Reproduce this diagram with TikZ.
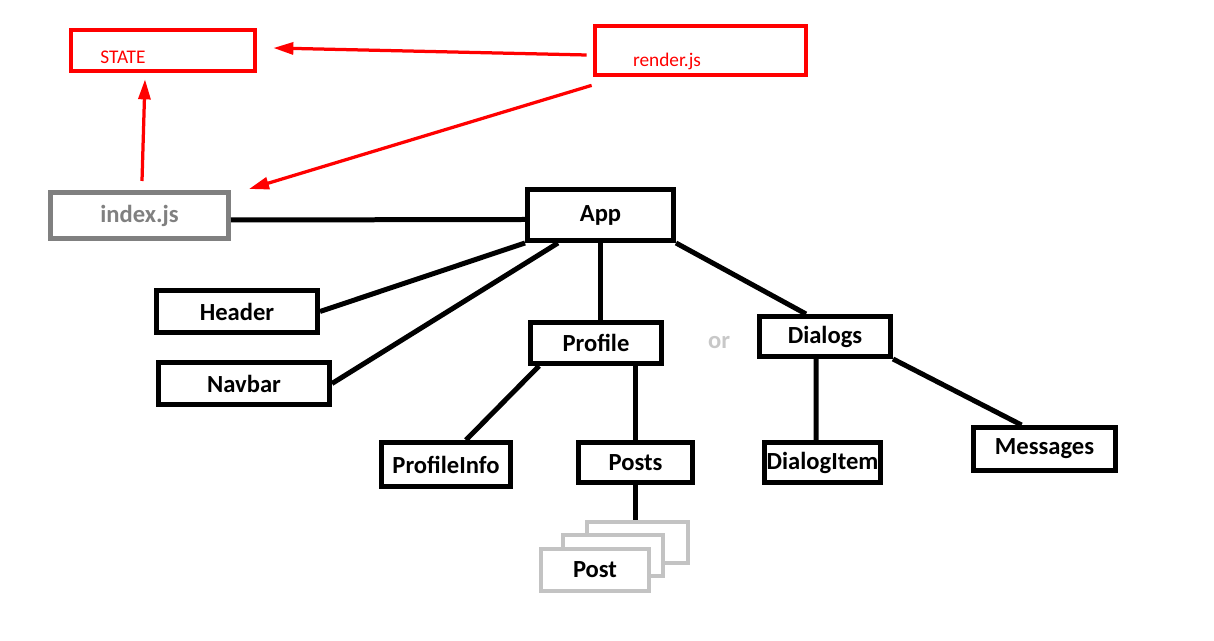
\documentclass[tikz,border=0pt]{standalone}
\usepackage{fontspec}
\setmainfont{Carlito}
\usetikzlibrary{arrows.meta}

\definecolor{jsred}{RGB}{255,0,0}
\definecolor{idxgray}{RGB}{128,128,128}
\definecolor{postgray}{RGB}{195,195,195}
\definecolor{orgray}{RGB}{200,200,200}

\begin{document}
\begin{tikzpicture}
        [x=0.02cm, y=-0.02cm,
        sz/.style 2 args={minimum width=#1*0.02cm, minimum height=#2*0.02cm},
        comp/.style={rectangle, draw=black, fill=white, line width=0.1cm, inner sep=0pt,
           font=\fontsize{14}{16}\selectfont\bfseries},
        redbox/.style={rectangle, draw=jsred, line width=0.075cm, inner sep=0pt},
        redtxt/.style={text=jsred, inner sep=0pt, font=\fontsize{11}{13}\selectfont},
        postbox/.style={comp, draw=postgray, line width=0.09cm},
        link/.style={black, line width=0.1cm},
        arr/.style={->, >={Triangle[length=0.4cm, width=0.24cm]}, jsred, line width=0.065cm}]
        \useasboundingbox (0,0) rectangle (1214,641);
        % state and render
        \node (state) at (163,50.5) [redbox, sz={184}{41}] {};
        \node (statelbl) at (123,57) [redtxt] {STATE};
        \node (render) at (700.5,50.5) [redbox, sz={211}{49}] {};
        \node (renderlbl) at (667,61) [redtxt] {render.js};
        \node (index) at (139.5,215.5) [comp, draw=idxgray, text=idxgray, sz={178}{46}] {index.js};
        \path ([xshift=0.05cm, yshift=0.18cm]index.north) edge[arr] ([xshift=-0.36cm, yshift=-0.13cm]state.south);
        \path ([xshift=-0.13cm, yshift=-0.09cm]render.west) edge[arr] ([xshift=0.33cm, yshift=0.05cm]state.east);
        \path ([xshift=-0.03cm, yshift=-0.17cm]render.south west) edge[arr] ([xshift=0.36cm, yshift=0.02cm]index.north east);
        % components
        \node (app) at (600.5,215) [comp, sz={146}{51}] {App};
        \node (header) at (237,311.5) [comp, sz={161}{42}] {Header};
        \node (navbar) at (244,383.5) [comp, sz={171}{42}] {Navbar};
        \node (profile) at (596,343) [comp, sz={131}{41}] {Profile};
        \node (dialogs) at (825,336.5) [comp, sz={131}{40}] {Dialogs};
        \node (or) at (719,343) [font=\fontsize{14}{16}\selectfont\bfseries, text=orgray] {or};
        \node (profinfo) at (446,464.5) [comp, sz={129}{44}] {ProfileInfo};
        \node (posts) at (635.5,462.5) [comp, sz={114}{40}] {Posts};
        \node (dlgitem) at (822.5,462.5) [comp, sz={116}{40}] {DialogItem};
        \node (messages) at (1044.5,449) [comp, sz={142}{43}] {Messages};
        \node (postc) at (637.5,542.5) [postbox, sz={101}{41}] {};
        \node (postb) at (613,555.5) [postbox, sz={100}{41}] {};
        \node (posta) at (595,570) [postbox, sz={108}{42}] {Post};
        % links
        \path ([yshift=-0.09cm]index.east) edge[link] ([yshift=-0.09cm]app.west);
        \path (app.south west) edge[link] (header.east);
        \path ([xshift=0.66cm]app.south west) edge[link] (navbar.east);
        \path (app.south) edge[link] (profile.north -| app.south);
        \path (app.south east) edge[link] ([xshift=-0.38cm]dialogs.north);
        \path ([xshift=0.22cm]profile.south west) edge[link] ([xshift=0.4cm]profinfo.north);
        \path (posts.north |- profile.south) edge[link] (posts.north);
        \path (posts.south) edge[link] (postc.north -| posts.south);
        \path ([xshift=-0.18cm]dialogs.south) edge[link] ([xshift=-0.13cm]dlgitem.north);
        \path (dialogs.south east) edge[link] ([xshift=-0.46cm]messages.north);
     \end{tikzpicture}
\end{document}
